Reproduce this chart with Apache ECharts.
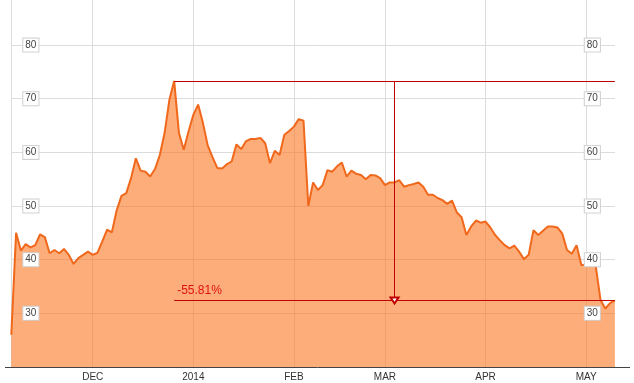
<!DOCTYPE html>
<html>
<head>
<meta charset="utf-8">
<script src="https://cdn.jsdelivr.net/npm/echarts@6/dist/echarts.min.js"></script>
<style>
  html, body { margin: 0; padding: 0; background: #fff; }
  #chart { width: 634px; height: 383px; }
</style>
</head>
<body>
<div id="chart"></div>
<script>
// Trading days (day-of-month) per month
const nov13 = [6,7,8,11,12,13,14,15,18,19,20,21,22,25,26,27,29];
const dec13 = [2,3,4,5,6,9,10,11,12,13,16,17,18,19,20,23,24,26,27,30,31];
const jan14 = [2,3,6,7,8,9,10,13,14,15,16,17,21,22,23,24,27,28,29,30,31];
const feb14 = [3,4,5,6,7,10,11,12,13,14,18,19,20,21,24,25,26,27,28];
const mar14 = [3,4,5,6,7,10,11,12,13,14,17,18,19,20,21,24,25,26,27,28,31];
const apr14 = [1,2,3,4,7,8,9,10,11,14,15,16,17,21,22,23,24,25,28,29,30];
const may14 = [1,2,5,6,7,8,9];

// Closing prices
const prices = [
  26.0, 45.0, 41.7, 42.9, 42.3, 42.7, 44.7, 44.2, 41.2, 41.8, 41.2, 42.0, 40.9, 39.2, 40.3, 40.9, 41.5,
  40.9, 41.3, 43.4, 45.6, 45.1, 49.2, 51.9, 52.4, 55.2, 58.9, 56.6, 56.4, 55.5, 56.9, 59.5, 63.6, 69.8, 73.31, 63.6, 60.5, 63.9,
  67.0, 68.9, 65.5, 61.3, 59.1, 57.1, 57.0, 57.8, 58.3, 61.5, 60.6, 62.1, 62.5, 62.5, 62.7, 61.7, 58.0, 60.3, 59.5, 63.3, 64.0,
  64.8, 66.2, 65.9, 50.0, 54.4, 53.0, 53.9, 56.7, 56.4, 57.4, 58.1, 55.5, 56.6, 56.0, 55.8, 55.0, 55.8, 55.7, 55.2,
  53.9, 54.4, 54.4, 54.8, 53.6, 53.9, 54.1, 54.4, 53.6, 52.1, 52.1, 51.5, 51.1, 50.4, 51.0, 48.8, 47.9, 44.6, 46.2, 47.3, 46.9,
  47.1, 46.0, 44.6, 43.6, 42.7, 42.1, 42.6, 41.5, 40.1, 40.9, 45.5, 44.6, 45.4, 46.2, 46.2, 46.0, 44.9, 41.8, 41.1, 42.7, 39.0,
  39.0, 39.0, 38.8, 32.5, 30.9, 31.9, 32.4
];

// X tick labels (first trading day of each month)
const tickDates = ['2013-12-02','2014-01-02','2014-02-03','2014-03-03','2014-04-01','2014-05-01'];
const tickLabels = ['DEC','2014','FEB','MAR','APR','MAY'];

// Y tick labels
const yTicks = [30, 40, 50, 60, 70, 80];

// Drawdown annotation
const changeLabel = ['-55.81%'];

function pad(n) { return n < 10 ? '0' + n : '' + n; }
const dates = [];
[['2013-11', nov13], ['2013-12', dec13], ['2014-01', jan14], ['2014-02', feb14],
 ['2014-03', mar14], ['2014-04', apr14], ['2014-05', may14]].forEach(function (m) {
  m[1].forEach(function (d) { dates.push(m[0] + '-' + pad(d)); });
});

const peakIdx = prices.indexOf(Math.max.apply(null, prices));
const lastIdx = prices.length - 1;
const peakVal = prices[peakIdx];
const lastVal = prices[lastIdx];
const midIdx = Math.round((peakIdx + lastIdx) / 2);

const FONT = '"Liberation Sans", Arial, sans-serif';
const Y_MIN = 20, Y_MAX = 88.4;
const tickIdx = tickDates.map(function (d) { return dates.indexOf(d); });

const labelStyle = {
  inside: true,
  color: '#444',
  fontSize: 10,
  fontFamily: FONT,
  backgroundColor: '#fff',
  borderColor: '#d0d0d0',
  borderWidth: 1,
  padding: [2, 2, 1, 2],
  showMaxLabel: false,
  showMinLabel: false,
  formatter: function (v) { return yTicks.indexOf(Math.round(v * 100) / 100) >= 0 ? String(v) : ''; }
};

const chart = echarts.init(document.getElementById('chart'), null, { renderer: 'canvas' });
chart.setOption({
  animation: false,
  backgroundColor: '#fff',
  grid: { left: 11.3, right: 19.1, top: 0, bottom: 16, containLabel: false },
  xAxis: {
    type: 'category',
    data: dates,
    boundaryGap: false,
    axisLine: { show: false },
    axisTick: { show: false },
    axisLabel: {
      interval: function (i) { return tickIdx.indexOf(i) >= 0; },
      formatter: function (v) { const k = tickDates.indexOf(v); return k >= 0 ? tickLabels[k] : ''; },
      color: '#333', fontSize: 10, fontFamily: FONT, margin: 5
    },
    splitLine: {
      show: true,
      interval: function (i) { return tickIdx.indexOf(i) >= 0; },
      lineStyle: { color: '#dcdcdc', width: 1 }
    }
  },
  yAxis: [
    {
      type: 'value', min: Y_MIN, max: Y_MAX, interval: 10, position: 'left',
      axisLine: { show: true, lineStyle: { color: '#dcdcdc' } },
      axisTick: { show: false },
      axisLabel: { show: false },
      splitLine: { show: true, showMinLine: false, showMaxLine: false, lineStyle: { color: '#dcdcdc', width: 1 } }
    },
    {
      type: 'value', min: Y_MIN, max: Y_MAX, interval: 10, position: 'left', z: 10,
      axisLine: { show: false }, axisTick: { show: false }, splitLine: { show: false },
      axisLabel: Object.assign({}, labelStyle, { margin: 12 })
    },
    {
      type: 'value', min: Y_MIN, max: Y_MAX, interval: 10, position: 'right', z: 10,
      axisLine: { show: false }, axisTick: { show: false }, splitLine: { show: false },
      axisLabel: Object.assign({}, labelStyle, { margin: 15 })
    }
  ],
  series: [{
    type: 'line',
    data: prices,
    yAxisIndex: 0,
    symbol: 'none',
    lineStyle: { color: '#f0681c', width: 2 },
    areaStyle: { color: 'rgb(252,118,32)', opacity: 0.6, origin: 'start' },
    markLine: {
      silent: true,
      animation: false,
      symbol: ['none', 'none'],
      lineStyle: { color: '#c00000', width: 1, type: 'solid' },
      label: { show: false },
      data: [
        [{ coord: [dates[peakIdx], peakVal] }, { coord: [dates[lastIdx], peakVal] }],
        [{ coord: [dates[peakIdx], lastVal],
           label: { show: true, position: 'insideStartTop', formatter: changeLabel[0],
                    color: '#e01010', fontSize: 12, fontFamily: FONT, distance: [3, 4] } },
         { coord: [dates[lastIdx], lastVal] }],
        [{ coord: [dates[midIdx], peakVal], symbol: 'none' },
         { coord: [dates[midIdx], lastVal], symbol: 'emptyTriangle', symbolSize: [8, 6] }]
      ]
    }
  }],
  graphic: [{
    type: 'line',
    shape: { x1: 5, y1: 367.5, x2: 630, y2: 367.5 },
    style: { stroke: '#444', lineWidth: 1 },
    z: 20
  }]
});
</script>
</body>
</html>
